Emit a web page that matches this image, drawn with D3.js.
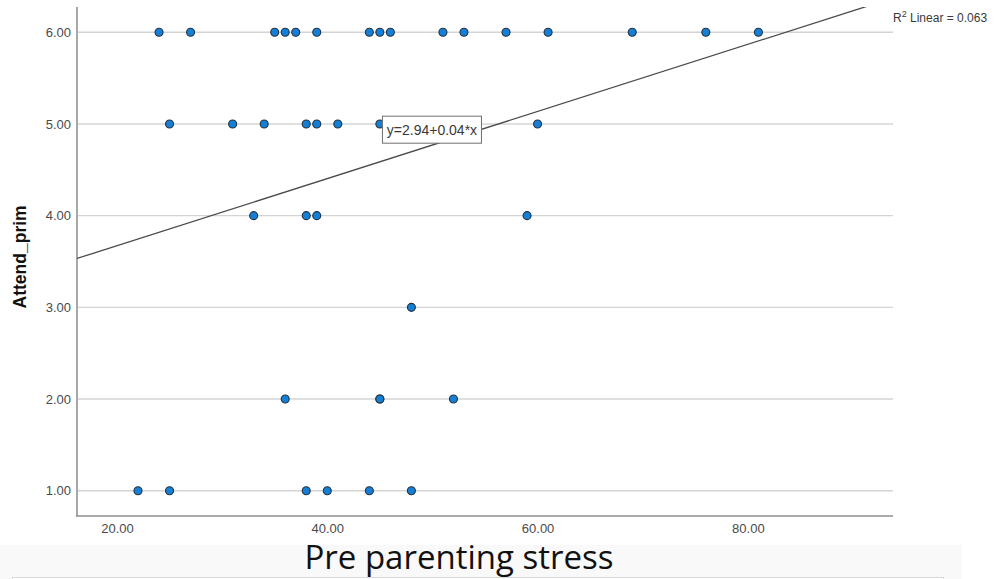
<!DOCTYPE html>
<html>
<head>
<meta charset="utf-8">
<script src="https://cdn.jsdelivr.net/npm/d3@7"></script>
<style>
  html, body { margin: 0; padding: 0; background: #fff; }
  svg { display: block; }
</style>
</head>
<body>
<svg id="chart" width="1002" height="579"></svg>
<script>
// Pre parenting stress (x) against Attend_prim (y), one entry per case
const preStress = [
  24, 27, 35, 36, 37, 39, 44, 45, 46, 51, 53, 57, 61, 69, 76, 81,
  25, 31, 34, 38, 39, 41, 45, 60,
  33, 38, 39, 59,
  48,
  36, 45, 45, 52,
  22, 25, 38, 40, 44, 48
];
const attendPrim = [
  6, 6, 6, 6, 6, 6, 6, 6, 6, 6, 6, 6, 6, 6, 6, 6,
  5, 5, 5, 5, 5, 5, 5, 5,
  4, 4, 4, 4,
  3,
  2, 2, 2, 2,
  1, 1, 1, 1, 1, 1
];

// Axis ticks
const xTicks = [20, 40, 60, 80];
const yTicks = [1, 2, 3, 4, 5, 6];

// Linear fit: y = intercept + slope * x
const fitIntercept = 2.94;
const fitSlope = 0.0366;
const fitRSquared = 0.063;
// where the fit-equation box sits, in data units (left, top)
const fitLabelAt = [45.2, 5.09];

const svg = d3.select("#chart");

const plot = { left: 77, right: 893, top: 7, bottom: 516 };

const x = d3.scaleLinear().domain([16.2, 93.8]).range([plot.left, plot.right]);
const y = d3.scaleLinear().domain([0.725, 6.275]).range([plot.bottom, plot.top]);

// light footer band below the chart
svg.append("rect")
  .attr("x", 0).attr("y", 545).attr("width", 962).attr("height", 34)
  .attr("fill", "#f9f9f9");
svg.append("rect")
  .attr("x", 12.5).attr("y", 577.5).attr("width", 931).attr("height", 10)
  .attr("fill", "#fff").attr("stroke", "#dadada");

svg.append("defs").append("clipPath").attr("id", "plot-clip")
  .append("rect")
  .attr("x", plot.left).attr("y", plot.top)
  .attr("width", plot.right - plot.left).attr("height", plot.bottom - plot.top);

// horizontal reference lines at each y tick
svg.append("g")
  .selectAll("line")
  .data(yTicks)
  .join("line")
  .attr("x1", plot.left).attr("x2", plot.right)
  .attr("y1", d => y(d)).attr("y2", d => y(d))
  .attr("stroke", "#d4d4d4").attr("stroke-width", 1.4);

// y axis
const yAxis = d3.axisLeft(y).tickValues(yTicks).tickSize(0).tickPadding(6)
  .tickFormat(d3.format(".2f"));
const gy = svg.append("g").attr("transform", `translate(${plot.left},0)`).call(yAxis);
gy.select(".domain").remove();
gy.selectAll("text")
  .attr("font-family", "'Liberation Sans', Arial, sans-serif")
  .attr("font-size", 13).attr("fill", "#4a4a4a");
svg.append("line")
  .attr("x1", plot.left).attr("x2", plot.left)
  .attr("y1", plot.top).attr("y2", plot.bottom)
  .attr("stroke", "#a8a8a8").attr("stroke-width", 2);

// x axis
const xAxis = d3.axisBottom(x).tickValues(xTicks).tickSize(0).tickPadding(8)
  .tickFormat(d3.format(".2f"));
const gx = svg.append("g").attr("transform", `translate(0,${plot.bottom})`).call(xAxis);
gx.select(".domain").remove();
gx.selectAll("text")
  .attr("font-family", "'Liberation Sans', Arial, sans-serif")
  .attr("font-size", 13).attr("fill", "#4a4a4a");
svg.append("line")
  .attr("x1", plot.left - 1).attr("x2", plot.right)
  .attr("y1", plot.bottom).attr("y2", plot.bottom)
  .attr("stroke", "#8c8c8c").attr("stroke-width", 1.6);

// fit line across the x range, clipped to the plot area
const xDom = x.domain();
svg.append("line")
  .attr("clip-path", "url(#plot-clip)")
  .attr("x1", x(xDom[0])).attr("y1", y(fitIntercept + fitSlope * xDom[0]))
  .attr("x2", x(xDom[1])).attr("y2", y(fitIntercept + fitSlope * xDom[1]))
  .attr("stroke", "#4a4a4a").attr("stroke-width", 1.3);

// scatter points
svg.append("g")
  .selectAll("circle")
  .data(preStress.map((v, i) => [v, attendPrim[i]]))
  .join("circle")
  .attr("cx", d => x(d[0]))
  .attr("cy", d => y(d[1]))
  .attr("r", 4)
  .attr("fill", "#157fd6")
  .attr("stroke", "#233140")
  .attr("stroke-width", 1.1);

// fit equation box
const fmt2 = d3.format(".2f");
const eqBox = svg.append("g")
  .attr("transform", `translate(${x(fitLabelAt[0])},${y(fitLabelAt[1])})`);
eqBox.append("rect")
  .attr("x", 0.5).attr("y", 0.5).attr("width", 99).attr("height", 27)
  .attr("fill", "#fff").attr("stroke", "#6e6e6e").attr("stroke-width", 1);
eqBox.append("text")
  .attr("x", 50).attr("y", 19)
  .attr("text-anchor", "middle")
  .attr("font-family", "'Liberation Sans', Arial, sans-serif")
  .attr("font-size", 14).attr("fill", "#3a3a3a")
  .text(`y=${fmt2(fitIntercept)}+${fmt2(fitSlope)}*x`);

// R² note at top right
const r2 = svg.append("text")
  .attr("x", plot.right).attr("y", 22)
  .attr("font-family", "'Liberation Sans', Arial, sans-serif")
  .attr("font-size", 12).attr("fill", "#3a3a3a");
r2.append("tspan").text("R");
r2.append("tspan").attr("font-size", 9).attr("dy", -5).text("2");
r2.append("tspan").attr("dy", 5).text(` Linear = ${d3.format(".3f")(fitRSquared)}`);

// axis titles
svg.append("text")
  .attr("transform", `translate(26,${y(3.55)}) rotate(-90)`)
  .attr("text-anchor", "middle")
  .attr("font-family", "'Liberation Sans', Arial, sans-serif")
  .attr("font-size", 17.5).attr("font-weight", "bold").attr("fill", "#111")
  .text("Attend_prim");

svg.append("text")
  .attr("x", 459).attr("y", 569)
  .attr("text-anchor", "middle")
  .attr("font-family", "'Open Sans', 'Noto Sans', sans-serif")
  .attr("font-size", 33).attr("fill", "#111")
  .text("Pre parenting stress");
</script>
</body>
</html>
